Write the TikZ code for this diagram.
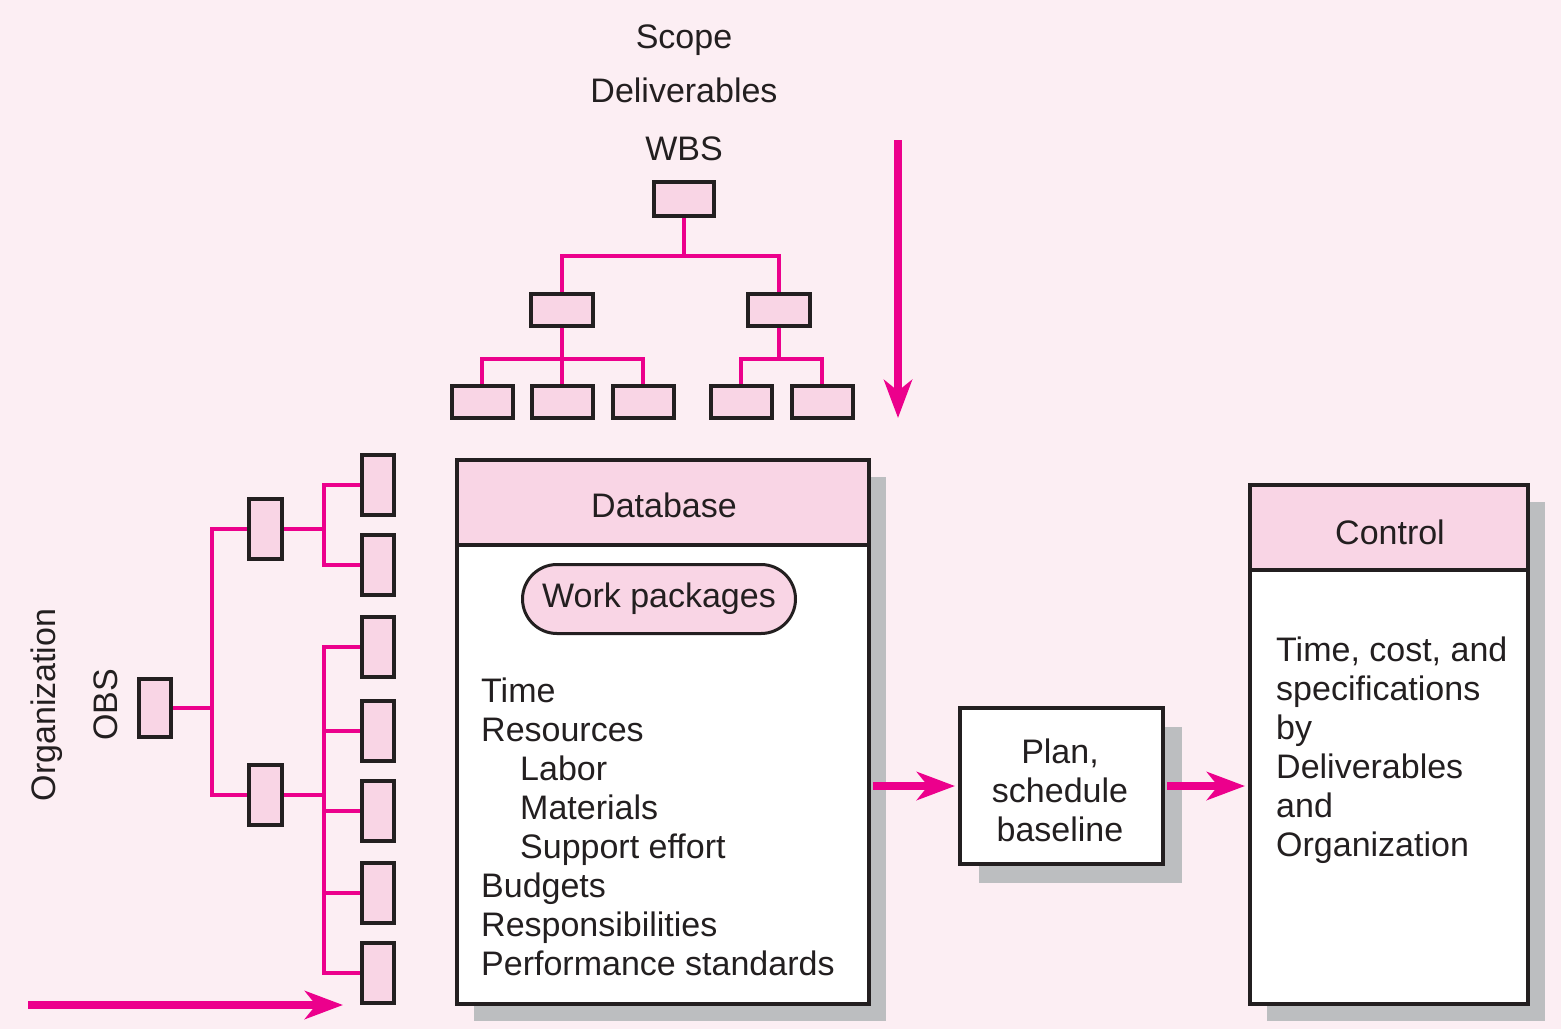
\documentclass[tikz,border=0pt]{standalone}
\usepackage{fontspec}
\setmainfont{Liberation Sans}
\usetikzlibrary{arrows.meta,shadows,shapes.misc}
\definecolor{bgc}{HTML}{FCEEF3}
\definecolor{mag}{HTML}{EC008C}
\definecolor{boxfill}{HTML}{F9D5E5}
\definecolor{linec}{HTML}{231F20}
\definecolor{shadowc}{HTML}{BCBEC0}
\pgfdeclarelayer{bg}
\pgfdeclarelayer{back}
\pgfsetlayers{bg,back,main}
\begin{document}
\begin{tikzpicture}[x=1pt,y=-1pt,
  txt/.style={font=\fontsize{34}{39}\selectfont, text=linec, inner sep=0pt},
  wbox/.style={draw=linec, line width=4pt, fill=boxfill, inner sep=0pt, minimum width=61pt, minimum height=32pt},
  obox/.style={draw=linec, line width=4pt, fill=boxfill, inner sep=0pt, minimum width=32pt, minimum height=60pt},
  conn/.style={draw=mag, line width=4pt},
  bigarrow/.style={draw=mag, line width=8pt, -{Stealth[length=38pt,width=28pt,inset=11pt]}},
  panel/.style={draw=linec, line width=4pt, fill=white, inner sep=0pt},
  headbox/.style={draw=linec, line width=4pt, fill=boxfill, inner sep=0pt, minimum height=85pt},
  boxshadow/.style={drop shadow={shadow xshift=#1, shadow yshift=-#1, fill=shadowc, opacity=1}}
]
\begin{pgfonlayer}{bg}
\fill[bgc] (0,0) rectangle (1561,1029);
\end{pgfonlayer}
\useasboundingbox (0,0) rectangle (1561,1029);

% ---------- WBS ----------
\node[txt, anchor=base] (scope) at (684,48) {Scope};
\node[txt, anchor=base] (deliv) at (684,102) {Deliverables};
\node[txt, anchor=base] (wbs) at (684,160) {WBS};

\node[wbox, minimum width=60pt, minimum height=34pt] (w0) at (684,199) {};
\node[wbox, minimum width=62pt] (w1) at (562,310) {};
\node[wbox, minimum width=62pt] (w2) at (779,310) {};
\node[wbox] (w11) at (482,402) {};
\node[wbox] (w12) at (562,402) {};
\node[wbox] (w13) at (643,402) {};
\node[wbox] (w21) at (741,402) {};
\node[wbox] (w22) at (822,402) {};

\begin{pgfonlayer}{back}
\draw[conn] (w0.south) -- ++(0,38) -| (w1.north);
\draw[conn] (w0.south) -- ++(0,38) -| (w2.north);
\draw[conn] (w1.south) -- ++(0,31) -| (w11.north);
\draw[conn] (w1.south) -- (w12.north);
\draw[conn] (w1.south) -- ++(0,31) -| (w13.north);
\draw[conn] (w2.south) -- ++(0,31) -| (w21.north);
\draw[conn] (w2.south) -- ++(0,31) -| (w22.north);
\end{pgfonlayer}

\coordinate (da1) at (898,140);
\coordinate (da2) at (898,418);
\draw[bigarrow] (da1) -- (da2);

% ---------- OBS ----------
\node[txt, rotate=90, anchor=base] (org) at (55,705) {Organization};
\node[txt, rotate=90, anchor=base] (obs) at (117,705) {OBS};

\node[obox, minimum height=58pt] (o0) at (155,708) {};
\node[obox, minimum width=33pt] (o1) at (265.5,529) {};
\node[obox, minimum width=33pt] (o2) at (265.5,795) {};
\node[obox] (l1) at (378,485) {};
\node[obox] (l2) at (378,565) {};
\node[obox] (l3) at (378,647) {};
\node[obox] (l4) at (378,731) {};
\node[obox] (l5) at (378,811) {};
\node[obox] (l6) at (378,893) {};
\node[obox] (l7) at (378,973) {};

\begin{pgfonlayer}{back}
\draw[conn] (o0.east) -- ++(39,0) |- (o1.west);
\draw[conn] (o0.east) -- ++(39,0) |- (o2.west);
\draw[conn] (o1.east) -- ++(40,0) |- (l1.west);
\draw[conn] (o1.east) -- ++(40,0) |- (l2.west);
\foreach \l in {l3,l4,l5,l6,l7}
  \draw[conn] (o2.east) -- ++(40,0) |- (\l.west);
\end{pgfonlayer}

\coordinate (ba1) at (28,1005);
\coordinate (ba2) at (343,1005);
\draw[bigarrow] (ba1) -- (ba2);

% ---------- Database ----------
\node[panel, boxshadow=17pt, minimum width=412pt, minimum height=544pt] (db) at (663,732) {};
\node[headbox, minimum width=412pt, anchor=north] (dbh) at (db.north) {};
\node[txt, anchor=base] (dbt) at (664,517) {Database};
\node[txt, draw=linec, line width=3pt, fill=boxfill, rounded rectangle,
      minimum width=273pt, minimum height=69pt] (wp) at (659,599) {Work packages};
\node[txt, align=left, anchor=base west] (dbl) at (481,975)
  {Time\\Resources\\\hspace*{39pt}Labor\\\hspace*{39pt}Materials\\\hspace*{39pt}Support effort\\Budgets\\Responsibilities\\Performance standards};

% ---------- Plan ----------
\node[panel, boxshadow=19pt, minimum width=203pt, minimum height=156pt] (plan) at (1061.5,786) {};
\node[txt, align=center, anchor=base] (plant) at (1060,841) {Plan,\\schedule\\baseline};

% ---------- Control ----------
\node[panel, boxshadow=17pt, minimum width=278pt, minimum height=519pt] (ctl) at (1389,744.5) {};
\node[headbox, minimum width=278pt, anchor=north] (ctlh) at (ctl.north) {};
\node[txt, anchor=base] (ctlt) at (1390,544) {Control};
\node[txt, align=left, anchor=base west] (ctll) at (1276,856)
  {Time, cost, and\\specifications\\by\\Deliverables\\and\\Organization};

% ---------- flow arrows ----------
\draw[bigarrow, shorten <=2pt, shorten >=3pt] (plan.west -| db.east) -- (plan.west);
\draw[bigarrow, shorten <=2pt, shorten >=3pt] (plan.east) -- (plan.east -| ctl.west);
\end{tikzpicture}
\end{document}
